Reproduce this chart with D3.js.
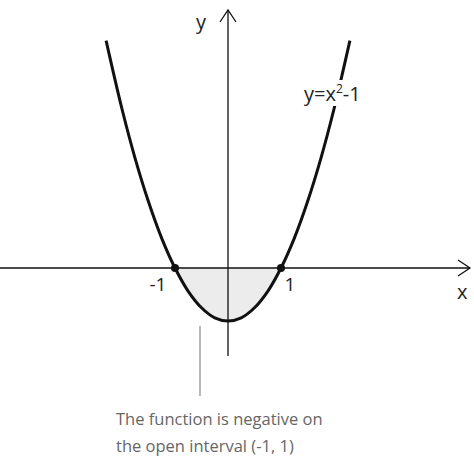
<!DOCTYPE html>
<html><head><meta charset="utf-8">
<script src="https://cdn.jsdelivr.net/npm/d3@7"></script>
<style>body{margin:0;background:#fff}svg{display:block;font-family:"Open Sans","Noto Sans",sans-serif}</style>
</head><body>
<svg id="c" width="474" height="461"></svg>
<script>
const curveX = [-2.3,-2.0,-1.75,-1.5,-1.25,-1.0,-0.75,-0.5,-0.25,0,0.25,0.5,0.75,1.0,1.25,1.5,1.75,2.0,2.3];
const curveY = [4.29,3.0,2.06,1.25,0.56,0,-0.44,-0.75,-0.94,-1,-0.94,-0.75,-0.44,0,0.56,1.25,2.06,3.0,4.29];
const rootsX = [-1,1];
const tickLabels = ["-1","1"];
const noteLines = ["The function is negative on","the open interval (-1, 1)"];

const svg = d3.select("#c");
const x = d3.scaleLinear().domain([-1,1]).range([175,281]);
const y = d3.scaleLinear().domain([0,-1]).range([268,321]);
const pts = curveX.map((v,i)=>[v,curveY[i]]);

const inner = pts.filter(p=>p[0]>=-1&&p[0]<=1);
svg.append("path").attr("d", d3.area().x(d=>x(d[0])).y0(y(0)).y1(d=>y(d[1])).curve(d3.curveCatmullRom)(inner))
  .attr("fill","#ececec");

svg.append("line").attr("x1",0).attr("x2",470).attr("y1",y(0)).attr("y2",y(0)).attr("stroke","#111").attr("stroke-width",1.3);
svg.append("path").attr("d",`M458,${y(0)-8}L470,${y(0)}L458,${y(0)+8}`).attr("fill","none").attr("stroke","#111").attr("stroke-width",1.3);
svg.append("line").attr("x1",x(0)).attr("x2",x(0)).attr("y1",356).attr("y2",10).attr("stroke","#111").attr("stroke-width",1.3);
svg.append("path").attr("d",`M${x(0)-8},22L${x(0)},10L${x(0)+8},22`).attr("fill","none").attr("stroke","#111").attr("stroke-width",1.3);
svg.append("text").attr("x",196).attr("y",29).attr("font-size",20).attr("fill","#222").text("y");
svg.append("text").attr("x",457).attr("y",299).attr("font-size",20).attr("fill","#222").text("x");

svg.append("path").attr("d", d3.line().x(d=>x(d[0])).y(d=>y(d[1])).curve(d3.curveCatmullRom)(pts))
  .attr("fill","none").attr("stroke","#111").attr("stroke-width",3);

svg.selectAll("circle.r").data(rootsX).join("circle").attr("cx",d=>x(d)).attr("cy",y(0)).attr("r",4).attr("fill","#111");
svg.selectAll("text.t").data(rootsX).join("text").attr("x",(d,i)=>i?x(d)+9:x(d)-17).attr("y",291)
  .attr("text-anchor","middle").attr("font-size",19).attr("fill","#222").text((d,i)=>tickLabels[i]);

// function label with white background
svg.append("rect").attr("x",303).attr("y",80).attr("width",56).attr("height",26).attr("fill","#fff");
const lab = svg.append("text").attr("x",304).attr("y",101).attr("font-size",20).attr("fill","#222");
lab.append("tspan").text("y=x");
lab.append("tspan").attr("font-size",12).attr("dy",-8).text("2");
lab.append("tspan").attr("dy",8).text("-1");

svg.append("line").attr("x1",200).attr("x2",200).attr("y1",326).attr("y2",396).attr("stroke","#888").attr("stroke-width",1.2);
svg.selectAll("text.n").data(noteLines).join("text").attr("x",116).attr("y",(d,i)=>425+i*27)
  .attr("font-size",16.5).attr("fill","#666").text(d=>d);
</script>
</body></html>
